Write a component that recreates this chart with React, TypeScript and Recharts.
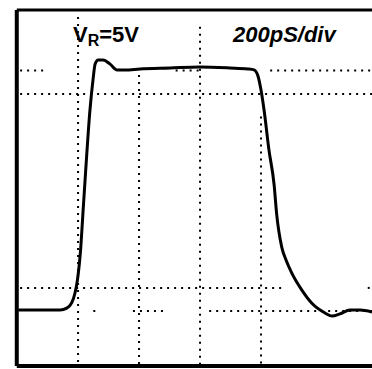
import { LineChart, Line, XAxis, YAxis, ReferenceLine } from 'recharts';

// time in ps (200 ps/div), amplitude normalised to the pulse top
const timePs = [
  -196, -125, -59, -37, -21, -10, -2, 9, 16, 23, 39, 49, 56, 66, 82, 105, 128, 154, 203, 302, 400, 498, 557,
  577, 590, 600, 610, 626, 643, 651, 668, 682, 701, 734, 766, 810, 833, 859, 892, 925, 964,
];
const amplitude = [
  0.004, 0.004, 0.004, 0.012, 0.033, 0.074, 0.128, 0.263, 0.403, 0.539, 0.827, 0.951, 1.016, 1.033, 1.033, 1.016,
  0.992, 0.992, 0.996, 1.0, 1.004, 1.0, 0.996, 0.992, 0.967, 0.909, 0.827, 0.663, 0.519, 0.403, 0.263, 0.21,
  0.156, 0.086, 0.033, -0.008, -0.021, -0.012, 0.004, 0.004, -0.004,
];

const verticalGrid = [
  { t: 0, from: 1.21, to: -0.22 },
  { t: 200, from: 1.0, to: -0.22 },
  { t: 400, from: 1.17, to: -0.22 },
  { t: 600, from: 0.8, to: -0.22 },
];
const horizontalGrid = [
  { a: 0.99, segs: [[-190, -110], [320, 400], [630, 964]] },
  { a: 0.893, segs: [[-190, 964]] },
  { a: 0.095, segs: [[-190, 680], [950, 964]] },
  { a: 0, segs: [[50, 60], [180, 280], [430, 964]] },
];

const frameLeft = -201;
const frameTop = 1.239;
const frameBottom = -0.226;

const data = timePs.map((t, i) => ({ t, v: amplitude[i] }));

const dotted = { stroke: '#000', strokeWidth: 2, strokeDasharray: '2 5' };

export default function App() {
  return (
    <div style={{ position: 'absolute', left: 0, top: 0, width: 372, height: 369, background: '#fff' }}>
      <LineChart width={372} height={369} data={data} margin={{ top: 0, right: 0, bottom: 0, left: 0 }}>
        <XAxis dataKey="t" type="number" domain={[-256, 964]} hide allowDataOverflow />
        <YAxis type="number" domain={[-0.2387, 1.2798]} hide allowDataOverflow />
        {verticalGrid.map((g) => (
          <ReferenceLine
            key={'v' + g.t}
            segment={[{ x: g.t, y: g.from }, { x: g.t, y: g.to }]}
            {...dotted}
          />
        ))}
        {horizontalGrid.flatMap((g) =>
          g.segs.map((s, i) => (
            <ReferenceLine
              key={'h' + g.a + '-' + i}
              segment={[{ x: s[0], y: g.a }, { x: s[1], y: g.a }]}
              {...dotted}
            />
          ))
        )}
        <ReferenceLine segment={[{ x: frameLeft, y: frameTop }, { x: 964, y: frameTop }]} stroke="#000" strokeWidth={3} />
        <ReferenceLine segment={[{ x: frameLeft, y: frameBottom }, { x: 964, y: frameBottom }]} stroke="#000" strokeWidth={4} />
        <ReferenceLine segment={[{ x: frameLeft, y: frameTop }, { x: frameLeft, y: frameBottom }]} stroke="#000" strokeWidth={4} />
        <Line
          type="monotone"
          dataKey="v"
          stroke="#000"
          strokeWidth={3}
          dot={false}
          activeDot={false}
          isAnimationActive={false}
        />
      </LineChart>
      <div
        style={{
          position: 'absolute',
          left: 73,
          top: 23,
          fontFamily: 'Liberation Sans, Arial, sans-serif',
          fontWeight: 'bold',
          fontSize: 22,
          lineHeight: '24px',
          whiteSpace: 'nowrap',
        }}
      >
        V<sub style={{ fontSize: 16, verticalAlign: '-4px' }}>R</sub>=5V
      </div>
      <div
        style={{
          position: 'absolute',
          left: 233,
          top: 23,
          fontFamily: 'Liberation Sans, Arial, sans-serif',
          fontWeight: 'bold',
          fontStyle: 'italic',
          fontSize: 22,
          lineHeight: '24px',
          whiteSpace: 'nowrap',
        }}
      >
        200pS/div
      </div>
    </div>
  );
}
